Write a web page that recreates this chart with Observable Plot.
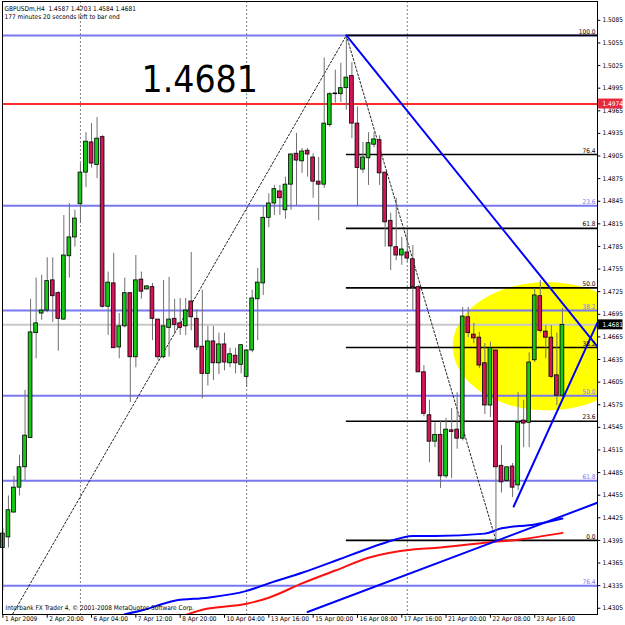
<!DOCTYPE html>
<html><head><meta charset="utf-8">
<script src="https://cdn.jsdelivr.net/npm/d3@7"></script>
<script src="https://cdn.jsdelivr.net/npm/@observablehq/plot@0.6"></script>
<style>
html,body{margin:0;padding:0;background:#fff;}
#chart svg{display:block}
</style>
</head><body><div id="chart"></div>
<script>
const symbol = "GBPUSDm,H4";
const timerText = "177 minutes 20 seconds left to bar end";
const copyright = "Interbank FX Trader 4, \u00a9 2001-2008 MetaQuotes Software Corp.";

const open = [1.4385,1.4399,1.4432,1.4465,1.4492,1.4531,1.4670,1.4696,1.4700,1.4740,
 1.4723,1.4688,1.4772,1.4797,1.4841,1.4883,1.4923,1.4893,1.4930,1.4705,
 1.4736,1.4651,1.4679,1.4723,1.4638,1.4741,1.4728,1.4731,1.4688,1.4638,
 1.4677,1.4689,1.4683,1.4679,1.4712,1.4689,1.4652,1.4616,1.4659,1.4630,
 1.4655,1.4630,1.4640,1.4628,1.4612,1.4647,1.4715,1.4736,1.4823,1.4842,
 1.4858,1.4833,1.4867,1.4908,1.4898,1.4912,1.4903,1.4871,1.4867,1.4946,
 1.4987,1.4987,1.4995,1.5011,1.4948,1.4887,1.4902,1.4920,1.4926,1.4883,
 1.4819,1.4784,1.4773,1.4777,1.4768,1.4731,1.4618,1.4561,1.4526,1.4535,
 1.4480,1.4541,1.4542,1.4530,1.4691,1.4668,1.4664,1.4630,1.4574,1.4647,
 1.4494,1.4474,1.4493,1.4468,1.4554,1.4551,1.4634,1.4719,1.4672,1.4664,
 1.4614,1.4587];
const high = [1.4411,1.4454,1.4480,1.4508,1.4594,1.4715,1.4743,1.4747,1.4770,1.4770,
 1.4725,1.4826,1.4842,1.4833,1.4895,1.4936,1.4948,1.4956,1.4932,1.4751,
 1.4776,1.4696,1.4743,1.4723,1.4773,1.4751,1.4733,1.4736,1.4688,1.4740,
 1.4744,1.4715,1.4716,1.4716,1.4777,1.4701,1.4727,1.4679,1.4679,1.4670,
 1.4670,1.4650,1.4650,1.4654,1.4647,1.4727,1.4756,1.4838,1.4855,1.4866,
 1.4866,1.4877,1.4908,1.4935,1.4915,1.4915,1.4908,1.4903,1.5035,1.4989,
 1.5019,1.5028,1.5065,1.5029,1.4970,1.4923,1.4936,1.4936,1.4932,1.4883,
 1.4829,1.4849,1.4797,1.4806,1.4786,1.4733,1.4627,1.4581,1.4551,1.4554,
 1.4557,1.4570,1.4591,1.4704,1.4704,1.4683,1.4671,1.4656,1.4658,1.4647,
 1.4521,1.4492,1.4497,1.4591,1.4581,1.4644,1.4729,1.4740,1.4680,1.4680,
 1.4670,1.4703];
const low = [1.4328,1.4385,1.4431,1.4454,1.4474,1.4530,1.4636,1.4687,1.4697,1.4684,
 1.4646,1.4687,1.4743,1.4784,1.4816,1.4863,1.4889,1.4875,1.4703,1.4667,
 1.4650,1.4636,1.4677,1.4578,1.4624,1.4715,1.4727,1.4660,1.4634,1.4636,
 1.4638,1.4668,1.4667,1.4667,1.4673,1.4647,1.4583,1.4600,1.4607,1.4615,
 1.4620,1.4624,1.4616,1.4616,1.4598,1.4644,1.4660,1.4720,1.4810,1.4826,
 1.4826,1.4821,1.4833,1.4839,1.4882,1.4877,1.4849,1.4819,1.4862,1.4943,
 1.4975,1.4976,1.4966,1.4928,1.4838,1.4882,1.4866,1.4916,1.4866,1.4784,
 1.4753,1.4766,1.4760,1.4764,1.4700,1.4618,1.4559,1.4498,1.4518,1.4464,
 1.4477,1.4477,1.4516,1.4527,1.4664,1.4656,1.4623,1.4562,1.4558,1.4395,
 1.4458,1.4472,1.4452,1.4461,1.4518,1.4518,1.4631,1.4670,1.4636,1.4610,
 1.4574,1.4584];
const close = [1.4404,1.4435,1.4465,1.4492,1.4534,1.4671,1.4683,1.4700,1.4739,1.4719,
 1.4689,1.4773,1.4797,1.4822,1.4883,1.4924,1.4895,1.4928,1.4705,1.4737,
 1.4650,1.4679,1.4723,1.4638,1.4740,1.4725,1.4732,1.4689,1.4638,1.4679,
 1.4688,1.4681,1.4677,1.4700,1.4691,1.4651,1.4616,1.4659,1.4630,1.4655,
 1.4631,1.4642,1.4630,1.4654,1.4647,1.4716,1.4737,1.4823,1.4842,1.4861,
 1.4849,1.4867,1.4907,1.4899,1.4911,1.4907,1.4871,1.4867,1.4948,1.4987,
 1.4988,1.4995,1.5009,1.4948,1.4889,1.4903,1.4922,1.4927,1.4882,1.4817,
 1.4785,1.4773,1.4781,1.4769,1.4731,1.4618,1.4563,1.4526,1.4535,1.4480,
 1.4542,1.4539,1.4530,1.4692,1.4670,1.4663,1.4627,1.4574,1.4650,1.4492,
 1.4472,1.4492,1.4465,1.4551,1.4550,1.4631,1.4720,1.4673,1.4664,1.4612,
 1.4587,1.4681];

const priceTicks = [1.5085,1.5055,1.5025,1.4995,1.4965,1.4935,1.4905,1.4875,1.4845,1.4815,
 1.4785,1.4755,1.4725,1.4695,1.4665,1.4635,1.4605,1.4575,1.4545,1.4515,1.4485,1.4455,
 1.4425,1.4395,1.4365,1.4335,1.4305];
const dateTickIdx = [0,8,16,24,32,40,48,56,64,72,80,88,96];
const dateTickLabels = ["1 Apr 2009","2 Apr 20:00","6 Apr 04:00","7 Apr 12:00","8 Apr 20:00",
 "10 Apr 04:00","13 Apr 16:00","15 Apr 00:00","16 Apr 08:00","17 Apr 16:00",
 "21 Apr 00:00","22 Apr 08:00","23 Apr 16:00"];
const weekStartIdx = [14, 44, 73];

const purpleFibPrices = [1.5065, 1.4839, 1.4700, 1.4587, 1.4474, 1.4335];
const purpleFibLabels = ["", "23.6", "38.2", "50.0", "61.8", "76.4"];
const blackFibPrices = [1.5065, 1.4907, 1.4809, 1.4730, 1.4651, 1.4553, 1.4395];
const blackFibLabels = ["100.0", "76.4", "61.8", "50.0", "38.2", "23.6", "0.0"];
const redLevel = 1.4974;

const maBlueIdx = [22, 25, 31, 37, 44, 48, 54, 60, 64, 69, 74, 78, 87, 90, 96, 101];
const maBlueVal = [1.4297,1.4302,1.4315,1.4319,1.4328,1.4338,1.4352,1.4368,1.4379,1.4392,1.4401,1.4401,1.4404,1.4411,1.4416,1.4424];
const maRedIdx = [33, 36, 44, 48, 54, 60, 66, 74, 78, 87, 93, 101];
const maRedVal = [1.4296,1.4303,1.4311,1.4319,1.4338,1.4355,1.4372,1.4383,1.4385,1.4392,1.4396,1.4405];

const dotLeftIdx = [-13, 62],   dotLeftVal = [1.4109, 1.5065];
const dotRightIdx = [62, 89],   dotRightVal = [1.5065, 1.4395];
const blueDownIdx = [62, 107.33], blueDownVal = [1.5065, 1.4652];
const blueUpIdx = [92.2, 107.33], blueUpVal = [1.4440, 1.4684];
const blueLowIdx = [55, 107.33], blueLowVal = [1.4300, 1.4445];

const ellipseCenterIdx = 98.3, ellipseCenterVal = 1.4652, ellipseRx = 17, ellipseRy = 0.0085;

// ---- derived ----
const bars = open.map((o, i) => ({i, o, h: high[i], l: low[i], c: close[i], up: close[i] >= o}));
const last = bars[bars.length - 1];
const xMin = -0.07, xMax = 107.33;
const yMin = 1.42967, yMax = 1.5110;
const toPts = (ix, v) => ix.map((x, k) => ({x, y: v[k]}));
const ell = [];
for (let k = 0; k <= 160; k++) {
  const t = Math.PI - Math.PI * k / 160;
  const x = ellipseCenterIdx + ellipseRx * Math.cos(t);
  const h = ellipseRy * Math.sin(t);
  ell.push({x, lo: ellipseCenterVal - h, hi: ellipseCenterVal + h});
}
const peakIdx = high.indexOf(Math.max(...high));
const FONT = "'DejaVu Sans Condensed', 'DejaVu Sans', sans-serif";
const GREEN = "#14c814", RED = "#d4145a", WICK = "#707070";
const PURPLE = "#7878f0", BLUE = "#0000ff";

const chart = Plot.plot({
  width: 625, height: 625,
  marginLeft: 2, marginRight: 28, marginTop: 1, marginBottom: 11,
  x: {domain: [xMin, xMax], axis: null},
  y: {domain: [yMin, yMax], axis: null},
  style: {background: "#fff", fontFamily: FONT, fontSize: "6.5px", fontStretch: "condensed", overflow: "visible"},
  marks: [
    Plot.areaY(ell, {x: "x", y1: "lo", y2: "hi", fill: "#ffff00", clip: true}),
    Plot.ruleX(weekStartIdx, {x: d => d, stroke: "#808080", strokeDasharray: "2,2", strokeWidth: 1}),
    Plot.ruleY(purpleFibPrices, {y: d => d, stroke: PURPLE, strokeWidth: 2}),
    Plot.ruleY([redLevel], {y: d => d, stroke: "#ff2a2a", strokeWidth: 2}),
    Plot.ruleY([last.c], {y: d => d, stroke: "#c8c8c8", strokeWidth: 2}),
    Plot.ruleY(blackFibPrices, {y: d => d, x1: peakIdx, x2: xMax, stroke: "#000", strokeWidth: 1.6}),
    Plot.line(toPts(dotLeftIdx, dotLeftVal), {x: "x", y: "y", stroke: "#222", strokeDasharray: "2,2", strokeWidth: 1, clip: true}),
    Plot.line(toPts(dotRightIdx, dotRightVal), {x: "x", y: "y", stroke: "#222", strokeDasharray: "2,2", strokeWidth: 1, clip: true}),
    Plot.line(toPts(maRedIdx, maRedVal), {x: "x", y: "y", stroke: "#ff1010", strokeWidth: 2, curve: "monotone-x", clip: true}),
    Plot.line(toPts(maBlueIdx, maBlueVal), {x: "x", y: "y", stroke: BLUE, strokeWidth: 2, curve: "monotone-x", clip: true}),
    Plot.ruleX(bars, {x: "i", y1: "l", y2: "h", stroke: WICK, strokeWidth: 1}),
    Plot.rect(bars, {x1: d => d.i - 0.34, x2: d => d.i + 0.34, y1: "o", y2: "c",
      fill: d => d.up ? GREEN : RED, stroke: "#000", strokeWidth: 0.8}),
    Plot.line(toPts(blueDownIdx, blueDownVal), {x: "x", y: "y", stroke: BLUE, strokeWidth: 2, clip: true}),
    Plot.line(toPts(blueUpIdx, blueUpVal), {x: "x", y: "y", stroke: BLUE, strokeWidth: 2, clip: true}),
    Plot.line(toPts(blueLowIdx, blueLowVal), {x: "x", y: "y", stroke: BLUE, strokeWidth: 2, clip: true}),
    // fib labels
    Plot.text(purpleFibPrices.map((p, k) => ({p, t: purpleFibLabels[k]})), {y: "p", text: "t", frameAnchor: "right", dx: -2, dy: -4, textAnchor: "end", fill: PURPLE}),
    Plot.text(blackFibPrices.map((p, k) => ({p, t: blackFibLabels[k]})), {y: "p", text: "t", frameAnchor: "right", dx: -2, dy: -4, textAnchor: "end", fill: "#000"}),
    // frame
    Plot.frame({stroke: "#000", strokeWidth: 1}),
    // right price axis
    Plot.ruleY(priceTicks, {y: d => d, x1: xMax, x2: xMax + 0.6, stroke: "#000"}),
    Plot.text(priceTicks, {y: d => d, text: d => d.toFixed(4), frameAnchor: "right", dx: 5, textAnchor: "start", fill: "#000"}),
    // price boxes
    Plot.rect([{p: redLevel, f: "#e8283c"}, {p: last.c, f: "#000"}], {x1: xMax + 0.2, x2: xMax + 4.6, y1: d => d.p - 0.00066, y2: d => d.p + 0.00066, fill: "f"}),
    Plot.text([redLevel, last.c], {y: d => d, text: d => d.toFixed(4), frameAnchor: "right", dx: 5, textAnchor: "start", fill: "#fff"}),
    // bottom date axis
    Plot.ruleX(dateTickIdx, {x: d => d, y1: yMin, y2: yMin - 0.0005, stroke: "#000"}),
    Plot.text(dateTickIdx, {x: d => d, text: (d, k) => dateTickLabels[k], frameAnchor: "bottom", dy: 6, dx: 2, textAnchor: "start", fill: "#000"}),
    // header texts
    Plot.text([`${symbol}  ${last.o.toFixed(4)} ${last.h.toFixed(4)} ${last.l.toFixed(4)} ${last.c.toFixed(4)}`], {text: d => d, frameAnchor: "top-left", dx: 2, dy: 5, textAnchor: "start", fill: "#000"}),
    Plot.text([timerText], {text: d => d, frameAnchor: "top-left", dx: 2, dy: 13, textAnchor: "start", fill: "#000"}),
    Plot.text([copyright], {text: d => d, frameAnchor: "bottom-left", dx: 3, dy: -5, textAnchor: "start", fill: "#000"}),
    Plot.text([last.c.toFixed(4)], {text: d => d, frameAnchor: "top-left", dx: 139, dy: 64, textAnchor: "start", fill: "#000", fontSize: 37})
  ]
});
document.getElementById("chart").appendChild(chart);
</script>
</body></html>
